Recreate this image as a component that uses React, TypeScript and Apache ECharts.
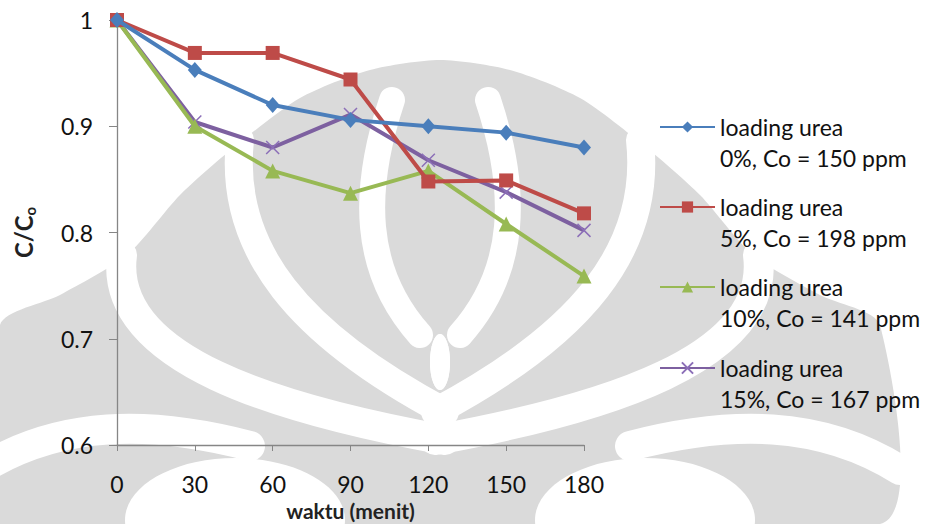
import React, { useEffect, useRef } from "react";
import * as echarts from "echarts";

// Sampling times (minutes)
const times = [0, 30, 60, 90, 120, 150, 180];

// C/Co ratios per urea loading
const urea0 = [1, 0.953, 0.92, 0.906, 0.9, 0.894, 0.88];
const urea5 = [1, 0.969, 0.969, 0.944, 0.848, 0.849, 0.818];
const urea10 = [1, 0.9, 0.858, 0.837, 0.858, 0.808, 0.759];
const urea15 = [1, 0.904, 0.88, 0.911, 0.868, 0.838, 0.802];

const seriesNames = [
  "loading urea\n0%, Co = 150 ppm",
  "loading urea\n5%, Co = 198 ppm",
  "loading urea\n10%, Co = 141 ppm",
  "loading urea\n15%, Co = 167 ppm",
];
const seriesData = [urea0, urea5, urea10, urea15];
const seriesColors = ["#4A7EBB", "#BE4B48", "#98B954", "#7D60A0"];
const seriesSymbols = [
  "diamond",
  "rect",
  "triangle",
  "path://M0,0L10,10M10,0L0,10",
];
const symbolSizes: [number, number][] = [
  [14, 16],
  [14, 14],
  [15, 15],
  [13, 13],
];

const FONT = "Lato, 'Open Sans', sans-serif";
const LINE_H = 31;
const WM_GRAY = "#dadada";

// Half of the faint page watermark (mirrored for the other half)
function watermarkHalf(): any[] {
  const band = (
    x1: number, y1: number, cx1: number, cy1: number,
    cx2: number, cy2: number, x2: number, y2: number, w: number
  ) => ({
    type: "bezierCurve",
    shape: { x1, y1, cpx1: cx1, cpy1: cy1, cpx2: cx2, cpy2: cy2, x2, y2 },
    style: { stroke: "#ffffff", lineWidth: w, fill: null, lineCap: "round" },
    silent: true,
  });
  return [
    band(240, 140, 228, 250, 300, 335, 445, 412, 28),
    band(392, 100, 362, 190, 362, 270, 420, 335, 26),
    band(122, 255, 108, 360, 280, 410, 445, 440, 30),
    band(-20, 470, 60, 420, 150, 420, 250, 446, 30),
    {
      type: "ellipse",
      shape: { cx: 235, cy: 520, rx: 110, ry: 62 },
      style: { fill: "#ffffff" },
      silent: true,
    },
    {
      type: "ellipse",
      shape: { cx: 440, cy: 362, rx: 10, ry: 28 },
      style: { fill: "#ffffff" },
      silent: true,
    },
  ];
}

export default function App() {
  const ref = useRef<HTMLDivElement>(null);

  useEffect(() => {
    if (!ref.current) return;
    const chart = echarts.init(ref.current, undefined, { renderer: "svg" });

    const series = seriesNames.map((name, i) => {
      const isCross = i === 3;
      return {
        name,
        type: "line",
        data: times.map((t, k) => [t, seriesData[i][k]]),
        symbol: seriesSymbols[i],
        symbolSize: symbolSizes[i],
        lineStyle: { color: seriesColors[i], width: 4 },
        itemStyle: isCross
          ? { color: "rgba(0,0,0,0)", borderColor: "#8C6FB8", borderWidth: 1.5 }
          : { color: seriesColors[i] },
        z: 10 - i,
      };
    });

    // one legend block per series; a leading empty line keeps the icon
    // level with the first text line
    const legendIconY = [127, 207, 287, 368];
    const legends = seriesNames.map((name, i) => ({
      data: [name],
      left: 659,
      top: legendIconY[i] - (LINE_H * 3) / 2,
      orient: "vertical",
      padding: 0,
      itemWidth: 55,
      itemHeight: 14,
      itemGap: 5,
      formatter: (n: string) => "\n" + n,
      textStyle: {
        fontFamily: FONT,
        fontSize: 23,
        color: "#111",
        lineHeight: LINE_H,
      },
    }));

    const watermark = [
      {
        type: "polygon",
        z: -10,
        silent: true,
        shape: {
          points: [
            [440, 60], [370, 70], [300, 98], [233, 148], [180, 195],
            [127, 255], [60, 295], [0, 325], [0, 524], [880, 524],
            [880, 325], [820, 295], [753, 255], [700, 195], [647, 148],
            [580, 98], [510, 70],
          ],
          smooth: 0.25,
        },
        style: { fill: WM_GRAY },
      },
      { type: "group", z: -9, silent: true, children: watermarkHalf() },
      {
        type: "group",
        z: -9,
        silent: true,
        x: 880,
        scaleX: -1,
        children: watermarkHalf(),
      },
    ];

    chart.setOption({
      animation: false,
      backgroundColor: "#ffffff",
      graphic: watermark,
      grid: {
        left: 117,
        right: 343,
        top: 20,
        bottom: 79,
        containLabel: false,
        outerBoundsMode: "none",
      },
      legend: legends,
      xAxis: {
        type: "value",
        min: 0,
        max: 180,
        interval: 30,
        name: "waktu (menit)",
        nameLocation: "middle",
        nameGap: 47,
        nameTextStyle: {
          fontFamily: FONT,
          fontSize: 21,
          lineHeight: 22,
          fontWeight: "bold",
          color: "#222",
        },
        axisLine: { show: true, lineStyle: { color: "#868686", width: 1.3 } },
        axisTick: { show: true, length: 6, lineStyle: { color: "#868686" } },
        axisLabel: {
          margin: 27,
          fontFamily: FONT,
          fontSize: 23,
          color: "#111",
        },
        splitLine: { show: false },
      },
      yAxis: {
        type: "value",
        min: 0.6,
        max: 1,
        interval: 0.1,
        name: "C/C{sub|o}",
        nameLocation: "middle",
        nameGap: 80,
        nameRotate: 90,
        nameTextStyle: {
          fontFamily: FONT,
          fontSize: 24,
          fontWeight: "bold",
          color: "#222",
          rich: {
            sub: {
              fontFamily: FONT,
              fontSize: 15,
              fontWeight: "bold",
              color: "#222",
              verticalAlign: "bottom",
              padding: [12, 0, 0, 0],
            },
          },
        },
        axisLine: { show: true, lineStyle: { color: "#868686", width: 1.3 } },
        axisTick: { show: true, length: 8, lineStyle: { color: "#868686" } },
        axisLabel: {
          margin: 24,
          fontFamily: FONT,
          fontSize: 23,
          color: "#111",
          formatter: (v: number) => (Math.abs(v - 1) < 1e-9 ? "1" : v.toFixed(1)),
        },
        splitLine: { show: false },
      },
      series,
    });

    return () => chart.dispose();
  }, []);

  return (
    <div
      ref={ref}
      style={{ position: "fixed", left: 0, top: 0, width: 927, height: 524 }}
    />
  );
}
